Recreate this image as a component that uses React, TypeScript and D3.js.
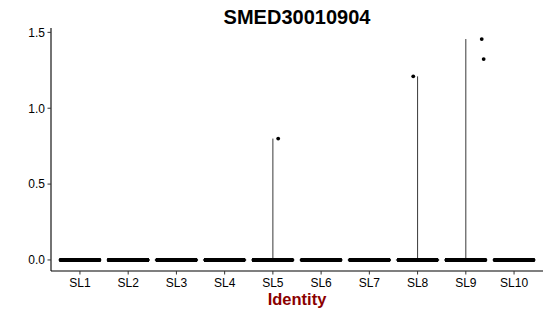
import React from "react";
import * as d3 from "d3";

const title = "SMED30010904";
const categories = ["SL1", "SL2", "SL3", "SL4", "SL5", "SL6", "SL7", "SL8", "SL9", "SL10"];
// number of cells per identity (all at expression 0 except the listed non-zero values)
const cellCounts = [420, 400, 380, 360, 340, 330, 320, 300, 290, 120];
// non-zero expression values
const nonZero: Record<string, number[]> = {
  SL5: [0.8],
  SL8: [1.21],
  SL9: [1.456, 1.324],
};
// jitter offsets (fraction of band) for the visible outlier points
const outlierJitter: Record<string, number[]> = {
  SL5: [0.11],
  SL8: [-0.09],
  SL9: [0.33, 0.37],
};
const yTicks = [0, 0.5, 1.0, 1.5];

const W = 550;
const H = 316;
const left = 51;
const right = 543;
const top = 28;
const bottom = 271;

export default function App() {
  const maxVal = d3.max(Object.values(nonZero).flat()) ?? 1;
  const minVal = 0;
  const pad = (maxVal - minVal) * 0.05;
  const y = d3.scaleLinear().domain([minVal - pad, maxVal + pad]).range([bottom, top]);
  const x = d3
    .scalePoint<string>()
    .domain(categories)
    .range([left, right])
    .padding(0.6);
  const band = x.step();

  const rng = d3.randomLcg(0.4242);
  const points: { cx: number; cy: number }[] = [];
  categories.forEach((c, i) => {
    const n = cellCounts[i];
    for (let k = 0; k < n; k++) {
      const jit = (rng() * 2 - 1) * 0.4 * band;
      points.push({ cx: (x(c) as number) + jit, cy: y(0) });
    }
  });
  const outliers: { cx: number; cy: number }[] = [];
  categories.forEach((c) => {
    (nonZero[c] || []).forEach((v, j) => {
      outliers.push({ cx: (x(c) as number) + outlierJitter[c][j] * band, cy: y(v) });
    });
  });

  const fontFam = "'Liberation Sans', Arial, Helvetica, sans-serif";

  return (
    <svg
      width={W}
      height={H}
      style={{ position: "absolute", left: 0, top: 0, background: "#fff" }}
      fontFamily={fontFam}
    >
      <rect width={W} height={H} fill="#fff" />
      {/* violins */}
      {categories.map((c) => {
        const cx = x(c) as number;
        const vals = nonZero[c] || [];
        const mx = vals.length ? Math.max(...vals) : 0;
        return (
          <g key={"v" + c}>
            <line
              x1={cx - 0.45 * band}
              x2={cx + 0.45 * band}
              y1={y(0)}
              y2={y(0)}
              stroke="#555"
              strokeWidth={1}
            />
            {mx > 0 && (
              <line x1={cx} x2={cx} y1={y(0)} y2={y(mx)} stroke="#222" strokeWidth={0.9} />
            )}
          </g>
        );
      })}
      {/* jittered points */}
      {points.map((p, i) => (
        <circle key={i} cx={p.cx} cy={p.cy} r={1.9} fill="#000" />
      ))}
      {outliers.map((p, i) => (
        <circle key={"o" + i} cx={p.cx} cy={p.cy} r={1.9} fill="#000" />
      ))}
      {/* axes */}
      <line x1={left} x2={left} y1={top} y2={bottom} stroke="#000" strokeWidth={1.1} />
      <line x1={left} x2={right} y1={bottom} y2={bottom} stroke="#000" strokeWidth={1.1} />
      {yTicks.map((t) => (
        <g key={"yt" + t}>
          <line x1={left - 3.5} x2={left} y1={y(t)} y2={y(t)} stroke="#333" strokeWidth={1} />
          <text x={left - 6} y={y(t)} dy="0.36em" textAnchor="end" fontSize={12} fill="#000">
            {d3.format(".1f")(t)}
          </text>
        </g>
      ))}
      {categories.map((c) => (
        <g key={"xt" + c}>
          <line
            x1={x(c) as number}
            x2={x(c) as number}
            y1={bottom}
            y2={bottom + 3.5}
            stroke="#333"
            strokeWidth={1}
          />
          <text x={x(c) as number} y={287} textAnchor="middle" fontSize={12} fill="#000">
            {c}
          </text>
        </g>
      ))}
      <text
        x={(left + right) / 2}
        y={305}
        textAnchor="middle"
        fontSize={16.5}
        fontWeight="bold"
        fill="#8B0000"
      >
        Identity
      </text>
      <text
        x={(left + right) / 2}
        y={23.5}
        textAnchor="middle"
        fontSize={20}
        fontWeight="bold"
        fill="#000"
      >
        {title}
      </text>
    </svg>
  );
}
